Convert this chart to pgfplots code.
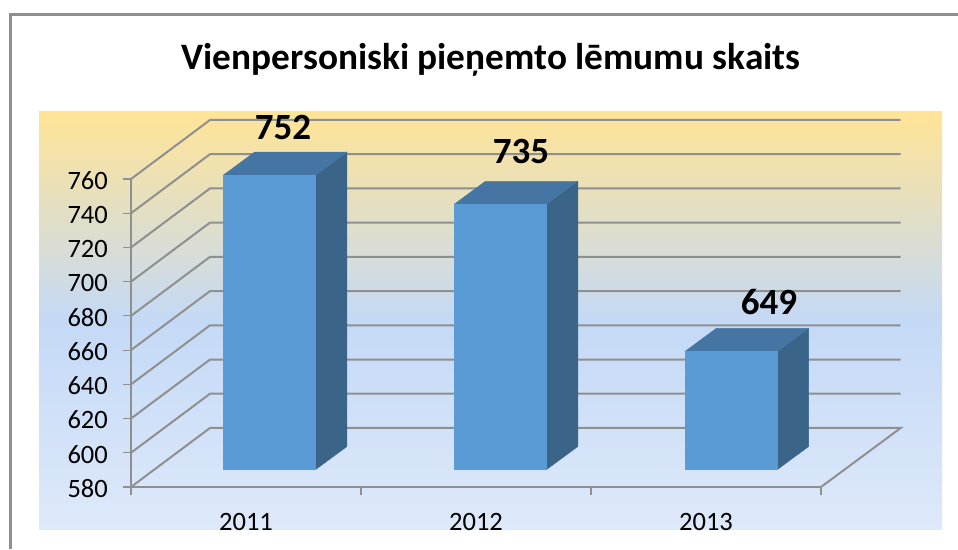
\documentclass[border=0pt]{standalone}
\usepackage{fontspec}
\setmainfont{Carlito}
\usepackage{pgfplots}
\pgfplotsset{compat=1.18}
\definecolor{gridgray}{HTML}{8F8F8F}
\definecolor{barfront}{HTML}{5B9BD5}
\definecolor{barside}{HTML}{3A6488}
\definecolor{bartop}{HTML}{4575A3}
\begin{document}
\begin{tikzpicture}[x=1pt,y=1pt]
\path[use as bounding box] (0,0) rectangle (958,549);
\fill[white] (0,0) rectangle (958,549);
\draw[gridgray,line width=2.6pt] (10.5,0) -- (10.5,534.7) -- (958,534.7);
\shade[top color={rgb,255:red,255;green,228;blue,150},bottom color={rgb,255:red,222;green,233;blue,250},middle color={rgb,255:red,196;green,217;blue,246}] (39,20) rectangle (942,437);
\begin{axis}[
  at={(131pt,62pt)},anchor=south west,
  scale only axis,width=690pt,height=308pt,
  xmin=-0.5,xmax=2.5,ymin=580,ymax=760,
  clip=false,
  axis x line*=bottom,axis y line*=left,
  axis line style={gridgray,line width=2pt,-},
  xtick={0,1,2},xticklabels={2011,2012,2013},
  minor xtick={-0.5,0.5,1.5,2.5},
  ytick={580,600,...,760},
  tick align=outside,
  major tick length=8pt,minor tick length=8pt,
  xtick style={draw=none},
  minor x tick style={draw=gridgray,line width=1.2pt},
  ytick style={draw=gridgray,line width=1.2pt},
  /pgf/number format/assume math mode=true,
  tick label style={font=\fontsize{26.5}{30}\selectfont},
  yticklabel style={xshift=-15pt,yshift=-1.5pt,inner sep=0pt},
  xticklabel style={anchor=base,inner sep=0pt,yshift=-35pt},
  title={\fontsize{37.3}{44}\selectfont\bfseries Vienpersoniski pieņemto lēmumu skaits},
  title style={at={(axis description cs:0.5217,1.367)},anchor=center},
]
% wall and floor lines
\addplot[gridgray,line width=2pt] coordinates {(-0.5,580)(-0.1565,614.5)(2.8465,614.5)(2.5,580)};
\addplot[gridgray,line width=2pt] coordinates {(-0.5,600)(-0.1565,634.5)(2.8465,634.5)};
\addplot[gridgray,line width=2pt] coordinates {(-0.5,620)(-0.1565,654.5)(2.8465,654.5)};
\addplot[gridgray,line width=2pt] coordinates {(-0.5,640)(-0.1565,674.5)(2.8465,674.5)};
\addplot[gridgray,line width=2pt] coordinates {(-0.5,660)(-0.1565,694.5)(2.8465,694.5)};
\addplot[gridgray,line width=2pt] coordinates {(-0.5,680)(-0.1565,714.5)(2.8465,714.5)};
\addplot[gridgray,line width=2pt] coordinates {(-0.5,700)(-0.1565,734.5)(2.8465,734.5)};
\addplot[gridgray,line width=2pt] coordinates {(-0.5,720)(-0.1565,754.5)(2.8465,754.5)};
\addplot[gridgray,line width=2pt] coordinates {(-0.5,740)(-0.1565,774.5)(2.8465,774.5)};
\addplot[gridgray,line width=2pt] coordinates {(-0.5,760)(-0.1565,794.5)(2.8465,794.5)};
% 2011: 752
\addplot[fill=barside,draw=barside] coordinates {(0.3030,590.23)(0.4387,603.67)(0.4387,775.67)(0.3030,762.23)} --cycle;
\addplot[fill=bartop,draw=bartop] coordinates {(-0.0987,762.23)(0.3030,762.23)(0.4387,775.67)(0.0370,775.67)} --cycle;
\addplot[fill=barfront,draw=barfront] coordinates {(-0.0987,590.23)(0.3030,590.23)(0.3030,762.23)(-0.0987,762.23)} --cycle;
% 2012: 735
\addplot[fill=barside,draw=barside] coordinates {(1.3069,590.23)(1.4426,603.67)(1.4426,758.67)(1.3069,745.23)} --cycle;
\addplot[fill=bartop,draw=bartop] coordinates {(0.9052,745.23)(1.3069,745.23)(1.4426,758.67)(1.0409,758.67)} --cycle;
\addplot[fill=barfront,draw=barfront] coordinates {(0.9052,590.23)(1.3069,590.23)(1.3069,745.23)(0.9052,745.23)} --cycle;
% 2013: 649
\addplot[fill=barside,draw=barside] coordinates {(2.3104,590.23)(2.4461,603.67)(2.4461,672.67)(2.3104,659.23)} --cycle;
\addplot[fill=bartop,draw=bartop] coordinates {(1.9087,659.23)(2.3104,659.23)(2.4461,672.67)(2.0444,672.67)} --cycle;
\addplot[fill=barfront,draw=barfront] coordinates {(1.9087,590.23)(2.3104,590.23)(2.3104,659.23)(1.9087,659.23)} --cycle;
\node[font=\fontsize{37}{44}\selectfont\bfseries] at (axis cs:0.161,790) {752};
\node[font=\fontsize{37}{44}\selectfont\bfseries] at (axis cs:1.196,776) {735};
\node[font=\fontsize{37}{44}\selectfont\bfseries] at (axis cs:2.274,688) {649};
\end{axis}
\end{tikzpicture}
\end{document}
